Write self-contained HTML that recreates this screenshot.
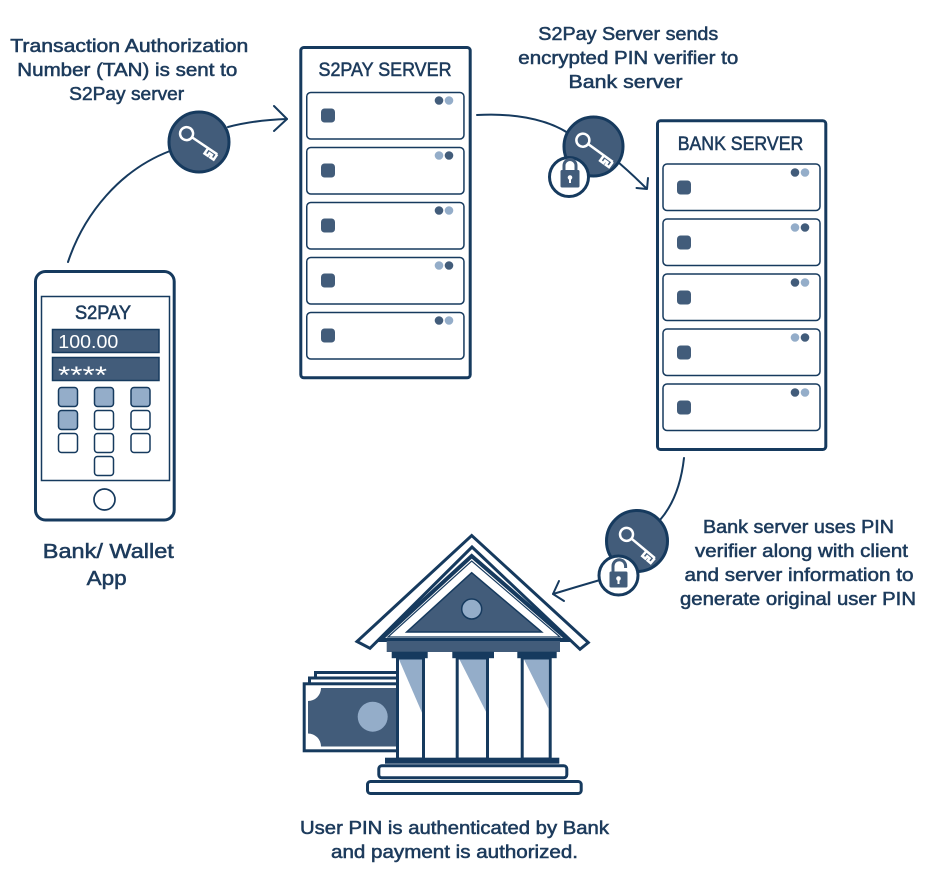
<!DOCTYPE html>
<html>
<head>
<meta charset="utf-8">
<style>
  html, body { margin:0; padding:0; background:#ffffff; }
  svg { display:block; }
  .t { font-family:"Liberation Sans", Arial, sans-serif; fill:#1d3b5c; stroke:#1d3b5c; stroke-width:0.55; font-size:18.5px; }
  .tt { font-family:"Liberation Sans", Arial, sans-serif; fill:#1d3b5c; stroke:#1d3b5c; stroke-width:0.55; font-size:19px; }
</style>
</head>
<body>
<svg width="930" height="869" viewBox="0 0 930 869" xmlns="http://www.w3.org/2000/svg">
  <rect width="930" height="869" fill="#ffffff"/>

  <!-- ===== Text labels ===== -->
  <text class="t" x="129.3" y="52" text-anchor="middle" textLength="238" lengthAdjust="spacingAndGlyphs">Transaction Authorization</text>
  <text class="t" x="127.3" y="76" text-anchor="middle" textLength="220" lengthAdjust="spacingAndGlyphs">Number (TAN) is sent to</text>
  <text class="t" x="126.7" y="100" text-anchor="middle" textLength="115" lengthAdjust="spacingAndGlyphs">S2Pay server</text>

  <text class="t" x="628.3" y="40" text-anchor="middle" textLength="180" lengthAdjust="spacingAndGlyphs">S2Pay Server sends</text>
  <text class="t" x="628.3" y="64" text-anchor="middle" textLength="220" lengthAdjust="spacingAndGlyphs">encrypted PIN verifier to</text>
  <text class="t" x="625.5" y="88" text-anchor="middle" textLength="114" lengthAdjust="spacingAndGlyphs">Bank server</text>

  <text class="t" x="798.5" y="533" text-anchor="middle" textLength="191" lengthAdjust="spacingAndGlyphs">Bank server uses PIN</text>
  <text class="t" x="801.5" y="557" text-anchor="middle" textLength="213" lengthAdjust="spacingAndGlyphs">verifier along with client</text>
  <text class="t" x="799" y="581" text-anchor="middle" textLength="229" lengthAdjust="spacingAndGlyphs">and server information to</text>
  <text class="t" x="798" y="605" text-anchor="middle" textLength="236" lengthAdjust="spacingAndGlyphs">generate original user PIN</text>

  <text class="t" x="108.3" y="558" text-anchor="middle" textLength="131" lengthAdjust="spacingAndGlyphs" style="font-size:20.5px">Bank/ Wallet</text>
  <text class="t" x="106.7" y="585" text-anchor="middle" textLength="40" lengthAdjust="spacingAndGlyphs" style="font-size:20.5px">App</text>

  <text class="t" x="454.5" y="834" text-anchor="middle" textLength="309" lengthAdjust="spacingAndGlyphs">User PIN is authenticated by Bank</text>
  <text class="t" x="454.5" y="858" text-anchor="middle" textLength="247" lengthAdjust="spacingAndGlyphs">and payment is authorized.</text>

  <!-- ===== Phone ===== -->
  <rect x="35.5" y="271.5" width="138.7" height="248.5" rx="10" fill="#fff" stroke="#163a5e" stroke-width="3"/>
  <rect x="41.5" y="296.5" width="128" height="184" fill="#fff" stroke="#163a5e" stroke-width="1.5"/>
  <text class="tt" x="103" y="319" text-anchor="middle" textLength="56" lengthAdjust="spacingAndGlyphs">S2PAY</text>
  <rect x="52.5" y="329.5" width="106.5" height="23" fill="#425c7a" stroke="#163a5e" stroke-width="1.5"/>
  <text x="58.3" y="348" textLength="60" lengthAdjust="spacingAndGlyphs" style="font-family:'Liberation Sans',Arial,sans-serif;font-size:18px;fill:#fff">100.00</text>
  <rect x="52.5" y="357.5" width="106.5" height="23" fill="#425c7a" stroke="#163a5e" stroke-width="1.5"/>
  <text x="58" y="383" textLength="49" lengthAdjust="spacingAndGlyphs" style="font-family:'Liberation Sans',Arial,sans-serif;font-size:24px;fill:#fff">****</text>
  <!-- keypad -->
  <g stroke="#163a5e" stroke-width="1.5">
    <rect x="58.5" y="387.5" width="19" height="19" rx="3" fill="#94adc9"/>
    <rect x="94.5" y="387.5" width="19" height="19" rx="3" fill="#94adc9"/>
    <rect x="131" y="387.5" width="19" height="19" rx="3" fill="#94adc9"/>
    <rect x="58.5" y="410.5" width="19" height="19" rx="3" fill="#94adc9"/>
    <rect x="94.5" y="410.5" width="19" height="19" rx="3" fill="#fff"/>
    <rect x="131" y="410.5" width="19" height="19" rx="3" fill="#fff"/>
    <rect x="58.5" y="433.5" width="19" height="19" rx="3" fill="#fff"/>
    <rect x="94.5" y="433.5" width="19" height="19" rx="3" fill="#fff"/>
    <rect x="131" y="433.5" width="19" height="19" rx="3" fill="#fff"/>
    <rect x="94.5" y="456.5" width="19" height="19" rx="3" fill="#fff"/>
  </g>
  <circle cx="104.5" cy="499.5" r="10.5" fill="#fff" stroke="#163a5e" stroke-width="1.7"/>

  <!-- ===== S2PAY SERVER ===== -->
  <rect x="300.8" y="47.5" width="169.4" height="330.3" rx="3" fill="#fff" stroke="#163a5e" stroke-width="3"/>
  <text class="tt" x="385" y="76" text-anchor="middle" textLength="133" lengthAdjust="spacingAndGlyphs">S2PAY SERVER</text>
  <g stroke="#163a5e" stroke-width="1.5" fill="#fff">
    <rect x="306.75" y="92.5" width="157.2" height="46.5" rx="4"/>
    <rect x="306.75" y="147.5" width="157.2" height="46.5" rx="4"/>
    <rect x="306.75" y="202.5" width="157.2" height="46.5" rx="4"/>
    <rect x="306.75" y="257.5" width="157.2" height="46.5" rx="4"/>
    <rect x="306.75" y="312.5" width="157.2" height="46.5" rx="4"/>
  </g>
  <g fill="#425c7a">
    <rect x="321" y="108.5" width="14" height="14" rx="3.5"/>
    <rect x="321" y="163.5" width="14" height="14" rx="3.5"/>
    <rect x="321" y="218.5" width="14" height="14" rx="3.5"/>
    <rect x="321" y="273.5" width="14" height="14" rx="3.5"/>
    <rect x="321" y="328.5" width="14" height="14" rx="3.5"/>
  </g>
  <g>
    <circle cx="439" cy="100.5" r="4.3" fill="#425c7a"/><circle cx="449" cy="100.5" r="4.3" fill="#94adc9"/>
    <circle cx="439" cy="155.5" r="4.3" fill="#94adc9"/><circle cx="449" cy="155.5" r="4.3" fill="#425c7a"/>
    <circle cx="439" cy="210.5" r="4.3" fill="#425c7a"/><circle cx="449" cy="210.5" r="4.3" fill="#94adc9"/>
    <circle cx="439" cy="265.5" r="4.3" fill="#94adc9"/><circle cx="449" cy="265.5" r="4.3" fill="#425c7a"/>
    <circle cx="439" cy="320.5" r="4.3" fill="#425c7a"/><circle cx="449" cy="320.5" r="4.3" fill="#94adc9"/>
  </g>

  <!-- ===== BANK SERVER ===== -->
  <rect x="657.5" y="120.8" width="168.3" height="328.7" rx="3" fill="#fff" stroke="#163a5e" stroke-width="3"/>
  <text class="tt" x="740.5" y="150" text-anchor="middle" textLength="125.6" lengthAdjust="spacingAndGlyphs">BANK SERVER</text>
  <g stroke="#163a5e" stroke-width="1.5" fill="#fff">
    <rect x="663" y="164" width="157" height="46.5" rx="4"/>
    <rect x="663" y="219" width="157" height="46.5" rx="4"/>
    <rect x="663" y="274" width="157" height="46.5" rx="4"/>
    <rect x="663" y="329" width="157" height="46.5" rx="4"/>
    <rect x="663" y="384" width="157" height="46.5" rx="4"/>
  </g>
  <g fill="#425c7a">
    <rect x="677" y="180.5" width="14" height="14" rx="3.5"/>
    <rect x="677" y="235.5" width="14" height="14" rx="3.5"/>
    <rect x="677" y="290.5" width="14" height="14" rx="3.5"/>
    <rect x="677" y="345.5" width="14" height="14" rx="3.5"/>
    <rect x="677" y="400.5" width="14" height="14" rx="3.5"/>
  </g>
  <g>
    <circle cx="795" cy="172.5" r="4.3" fill="#425c7a"/><circle cx="805" cy="172.5" r="4.3" fill="#94adc9"/>
    <circle cx="795" cy="227.5" r="4.3" fill="#94adc9"/><circle cx="805" cy="227.5" r="4.3" fill="#425c7a"/>
    <circle cx="795" cy="282.5" r="4.3" fill="#425c7a"/><circle cx="805" cy="282.5" r="4.3" fill="#94adc9"/>
    <circle cx="795" cy="337.5" r="4.3" fill="#94adc9"/><circle cx="805" cy="337.5" r="4.3" fill="#425c7a"/>
    <circle cx="795" cy="392.5" r="4.3" fill="#425c7a"/><circle cx="805" cy="392.5" r="4.3" fill="#94adc9"/>
  </g>

  <!-- ===== Connectors ===== -->
  <g fill="none" stroke="#163a5e" stroke-width="2" stroke-linecap="round" stroke-linejoin="round">
    <path d="M68,262 C84,214 120,170 170,151"/>
    <path d="M228,127 Q255,120 287,119"/>
    <path d="M274,106 L287,119 L274,131"/>

    <path d="M477,115 C510,113 545,118 568,133"/>
    <path d="M618,162 Q633,175 646,188"/>
    <path d="M636.5,188 L647,189 L648,178"/>

    <path d="M684,458 C681,485 673,505 660,520"/>
    <path d="M600,580 Q576,587 553,594"/>
    <path d="M559,581 L553,594 L564,601"/>
  </g>

  <!-- ===== Key circle 1 ===== -->
  <circle cx="199" cy="142" r="30" fill="#425c7a" stroke="#163a5e" stroke-width="3"/>
  <g transform="translate(199,142) rotate(34)" fill="none" stroke="#fff" stroke-width="2.5">
    <circle cx="-15" cy="0" r="6.5"/>
    <path d="M-8.5,0 H22 M11,0 V6.5 H15 V3.5 H18 V6.5 H22 V0"/>
  </g>

  <!-- ===== Key circle 2 + closed lock ===== -->
  <circle cx="593.5" cy="146.5" r="29.5" fill="#425c7a" stroke="#163a5e" stroke-width="3"/>
  <g transform="translate(595,149) rotate(36)" fill="none" stroke="#fff" stroke-width="2.5">
    <circle cx="-15" cy="0" r="6.5"/>
    <path d="M-8.5,0 H22 M11,0 V6.5 H15 V3.5 H18 V6.5 H22 V0"/>
  </g>
  <circle cx="569" cy="177" r="19.5" fill="#fff" stroke="#163a5e" stroke-width="3"/>
  <path d="M564,171 V165.5 A6,6 0 0 1 576,165.5 V171" fill="none" stroke="#425c7a" stroke-width="3"/>
  <rect x="560.5" y="170" width="19" height="17.5" rx="1.5" fill="#425c7a"/>
  <circle cx="570" cy="177.5" r="2.3" fill="#fff"/>
  <rect x="569" y="178" width="2" height="5" fill="#fff"/>

  <!-- ===== Key circle 3 + open lock ===== -->
  <circle cx="637" cy="541" r="30.5" fill="#425c7a" stroke="#163a5e" stroke-width="3"/>
  <g transform="translate(638,544) rotate(40)" fill="none" stroke="#fff" stroke-width="2.5">
    <circle cx="-15" cy="0" r="6.5"/>
    <path d="M-8.5,0 H22 M11,0 V6.5 H15 V3.5 H18 V6.5 H22 V0"/>
  </g>
  <circle cx="618.5" cy="575.5" r="19.5" fill="#fff" stroke="#163a5e" stroke-width="3"/>
  <path d="M613,572 V566 A6.3,6.3 0 0 1 625.6,566 V568" fill="none" stroke="#425c7a" stroke-width="3"/>
  <rect x="609.5" y="571.5" width="18" height="16" rx="1.5" fill="#425c7a"/>
  <circle cx="618.5" cy="578.5" r="2.3" fill="#fff"/>
  <rect x="617.5" y="579" width="2" height="5" fill="#fff"/>

  <!-- ===== Money bills ===== -->
  <rect x="315.5" y="672.5" width="85" height="68" fill="#fff" stroke="#163a5e" stroke-width="3"/>
  <rect x="309.5" y="678" width="90" height="68" fill="#fff" stroke="#163a5e" stroke-width="3"/>
  <rect x="304.2" y="683.8" width="95" height="67" fill="#fff" stroke="#163a5e" stroke-width="3"/>
  <path d="M321,688 L398,688 L398,746.5 L321,746.5 A13,13 0 0 0 308,733.5 L308,701 A13,13 0 0 0 321,688 Z" fill="#425c7a"/>
  <circle cx="372.7" cy="716.7" r="15" fill="#94adc9"/>

  <!-- ===== Bank building ===== -->
  <polygon points="357,641.5 471.7,535.5 588.3,642.5 580,649.3 472,547 370,648.3" fill="#fff" stroke="#163a5e" stroke-width="3" stroke-linejoin="miter"/>
  <polygon points="380,640 471.7,556 568.3,640" fill="#fff" stroke="#163a5e" stroke-width="4" stroke-linejoin="miter"/>
  <polygon points="388,637 471.7,561 560,637" fill="none" stroke="#163a5e" stroke-width="1.2"/>
  <polygon points="471.7,572.7 406.7,632 541.7,632" fill="#425c7a" stroke="#163a5e" stroke-width="1.5"/>
  <circle cx="471.7" cy="609" r="10" fill="#94adc9" stroke="#163a5e" stroke-width="1.5"/>
  <rect x="386.7" y="641" width="173.3" height="11" fill="#425c7a"/>
  <rect x="391.7" y="651.7" width="36" height="6.5" fill="#163a5e"/>
  <rect x="452.3" y="651.7" width="41.7" height="6.5" fill="#163a5e"/>
  <rect x="517.3" y="651.7" width="39.4" height="6.5" fill="#163a5e"/>
  <g fill="#fff" stroke="#163a5e" stroke-width="3">
    <rect x="397.5" y="658" width="26" height="101"/>
    <rect x="457.2" y="658" width="30.3" height="101"/>
    <rect x="522.2" y="658" width="28" height="101"/>
  </g>
  <g fill="#94adc9">
    <polygon points="399,659.5 422,659.5 422,712.7"/>
    <polygon points="459.5,659.5 486,659.5 486,711.7"/>
    <polygon points="524,659.5 548.7,659.5 548.7,709.3"/>
  </g>
  <rect x="385" y="757.7" width="174.3" height="6" fill="#163a5e"/>
  <rect x="378.8" y="765.8" width="188" height="12" rx="3" fill="#fff" stroke="#163a5e" stroke-width="3"/>
  <rect x="367.5" y="781.5" width="213.7" height="12" rx="3" fill="#fff" stroke="#163a5e" stroke-width="3"/>
</svg>
</body>
</html>
